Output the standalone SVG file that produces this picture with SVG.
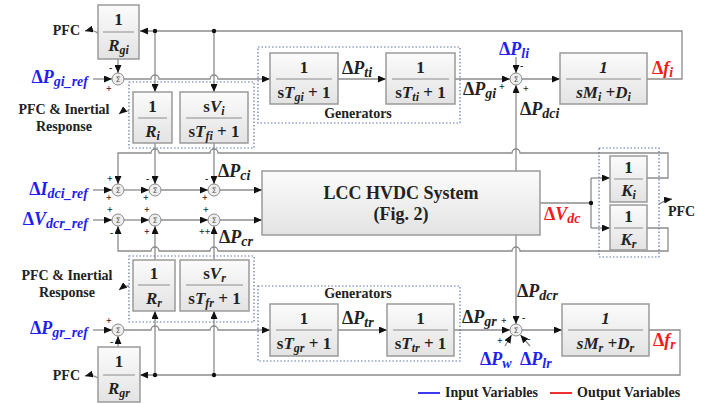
<svg xmlns="http://www.w3.org/2000/svg" width="722" height="404" viewBox="0 0 722 404">
<defs>
<linearGradient id="bg" x1="0" y1="0" x2="0" y2="1"><stop offset="0" stop-color="#fbfbfb"/><stop offset="1" stop-color="#e3e3e3"/></linearGradient>
<marker id="ah" markerWidth="8" markerHeight="7" refX="8" refY="3.5" orient="auto" markerUnits="userSpaceOnUse"><path d="M0,0 L8,3.5 L0,7 z" fill="#111"/></marker>
<g id="sig"><circle r="6" fill="#eeeeee" stroke="#8a8a8a" stroke-width="1"/><text y="2.6" text-anchor="middle" font-family="DejaVu Sans, sans-serif" font-size="7.5" fill="#555">Σ</text></g>
</defs>
<style>
.ln{fill:none;stroke:#8c8c8c;stroke-width:1.3}
.ar{marker-end:url(#ah)}
.blk{fill:url(#bg);stroke:#9a9a9a;stroke-width:1.5}
.grp{fill:none;stroke:#5f74b2;stroke-width:1.2;stroke-dasharray:1.5 2}
.fr{stroke:#8c8c8c;stroke-width:1;fill:none}
.t{font-family:'Liberation Serif',serif;font-weight:bold;fill:#222}
.bt{font-size:17px}
.lb{font-size:18px}
.sm{font-size:14px}
.sg{font-size:10px}
.i{font-style:italic}
.blue{fill:#1f1ff2}
.red{fill:#f21a1a}
.dot{fill:#111}
</style>
<rect width="722" height="404" fill="#ffffff"/>

<g id="connectors">
<path class="ln ar" d="M647,79 H682 V31 H140"/>
<path class="ln ar" d="M155,31 V92"/>
<path class="ln ar" d="M214,31 V92"/>
<circle class="dot" cx="155" cy="31" r="2.2"/>
<circle class="dot" cx="214" cy="31" r="2.2"/>
<path class="ln ar" d="M118,59 V73"/>
<path class="ln ar" d="M93,79 H112"/>
<path class="ln ar" d="M124,79 H151 A4,4 0 0 1 159,79 H210 A4,4 0 0 1 218,79 H270"/>
<path class="ln ar" d="M338,79 H386"/>
<path class="ln ar" d="M455,79 H510"/>
<path class="ln ar" d="M516,57 V73"/>
<path class="ln ar" d="M516,171 V85"/>
<path class="ln ar" d="M522,79 H560"/>
<path class="ln ar" d="M99,34 Q93,29 85,31"/>
<path class="ln ar" d="M129,111 Q124,110 119,114"/>
<path class="ln ar" d="M93,190 H112"/>
<path class="ln ar" d="M124,190 H149"/>
<path class="ln ar" d="M161,190 H208"/>
<path class="ln ar" d="M220,190 H262"/>
<path class="ln ar" d="M93,220 H112"/>
<path class="ln ar" d="M124,220 H149"/>
<path class="ln ar" d="M161,220 H208"/>
<path class="ln ar" d="M220,220 H262"/>
<path class="ln ar" d="M155,143 V184"/>
<path class="ln ar" d="M214,143 V184"/>
<path class="ln ar" d="M155,260 V226"/>
<path class="ln ar" d="M214,260 V226"/>
<path class="ln ar" d="M647,178 H668 V153 H520 A4,4 0 0 0 512,153 H218 A4,4 0 0 0 210,153 H159 A4,4 0 0 0 151,153 H118 V184"/>
<path class="ln ar" d="M647,228 H668 V251 H520 A4,4 0 0 0 512,251 H218 A4,4 0 0 0 210,251 H159 A4,4 0 0 0 151,251 H118 V226"/>
<path class="ln" d="M540,203 H591 M591,178 V228"/>
<path class="ln ar" d="M591,178 H610"/>
<path class="ln ar" d="M591,228 H610"/>
<circle class="dot" cx="591" cy="203" r="2.2"/>
<path class="ln ar" d="M659,204 Q665,200 672,199"/>
<path class="ln ar" d="M516,235 V324"/>
<path class="ln ar" d="M93,330 H112"/>
<path class="ln ar" d="M118,347 V336"/>
<path class="ln ar" d="M124,330 H151 A4,4 0 0 1 159,330 H210 A4,4 0 0 1 218,330 H270"/>
<path class="ln ar" d="M338,330 H387"/>
<path class="ln ar" d="M454,330 H510"/>
<path class="ln ar" d="M522,330 H562"/>
<path class="ln ar" d="M505,346 L511.5,335"/>
<path class="ln ar" d="M530,346 L520.5,335"/>
<path class="ln ar" d="M649,330 H680 V375 H140"/>
<path class="ln ar" d="M155,375 V311"/>
<path class="ln ar" d="M214,375 V311"/>
<circle class="dot" cx="155" cy="375" r="2.2"/>
<circle class="dot" cx="214" cy="375" r="2.2"/>
<path class="ln ar" d="M98,378 Q93,374 85,376"/>
<path class="ln ar" d="M129,286 Q124,286 119,290"/>
</g>

<rect class="grp" x="129" y="82" width="125" height="66"/>
<rect class="grp" x="258" y="47" width="202" height="76"/>
<rect class="grp" x="599" y="148" width="60" height="109"/>
<rect class="grp" x="129" y="256" width="125" height="66"/>
<rect class="grp" x="258" y="286" width="202" height="75"/>

<g font-family="Liberation Serif, serif">
<g id="sum_gi"><use href="#sig" x="118" y="79"/><text class="t sg" x="109" y="71">-</text><text class="t sg" x="106" y="92">+</text></g>
<g id="sum_i"><use href="#sig" x="516" y="79"/><text class="t sg" x="520" y="69">-</text><text class="t sg" x="499" y="90">+</text><text class="t sg" x="523" y="92">+</text></g>
<g id="sum_r1c1"><use href="#sig" x="118" y="190"/><text class="t sg" x="107" y="182">+</text><text class="t sg" x="106" y="201">+</text></g>
<g id="sum_r1c2"><use href="#sig" x="155" y="190"/><text class="t sg" x="146" y="182">-</text><text class="t sg" x="143" y="201">+</text></g>
<g id="sum_r1c3"><use href="#sig" x="214" y="190"/><text class="t sg" x="205" y="182">-</text><text class="t sg" x="202" y="201">+</text></g>
<g id="sum_r2c1"><use href="#sig" x="118" y="220"/><text class="t sg" x="107" y="213">+</text><text class="t sg" x="110" y="236">-</text></g>
<g id="sum_r2c2"><use href="#sig" x="155" y="220"/><text class="t sg" x="144" y="213">+</text><text class="t sg" x="144" y="235">+</text></g>
<g id="sum_r2c3"><use href="#sig" x="214" y="220"/><text class="t sg" x="203" y="213">+</text><text class="t sg" x="199" y="235">++</text></g>
<g id="sum_gr"><use href="#sig" x="118" y="330"/><text class="t sg" x="106" y="324">+</text><text class="t sg" x="110" y="345">-</text></g>
<g id="sum_r"><use href="#sig" x="516" y="330"/><text class="t sg" x="501" y="324">+</text><text class="t sg" x="522" y="321">-</text><text class="t sg" x="497" y="344">+</text><text class="t sg" x="527" y="342">-</text></g>

<g id="Rgi"><rect class="blk" x="98" y="5" width="41" height="54"/><path class="fr" d="M103,32H134"/><text class="t bt" x="118.5" y="25" text-anchor="middle">1</text><text class="t bt i" x="118.5" y="51" text-anchor="middle">R<tspan font-size="12" dy="3">gi</tspan></text></g>
<g id="Tgi"><rect class="blk" x="270" y="53" width="68" height="51"/><path class="fr" d="M276,79H332"/><text class="t bt" x="304" y="73" text-anchor="middle">1</text><text class="t bt" x="304" y="98" text-anchor="middle">s<tspan class="i">T</tspan><tspan class="i" font-size="12" dy="3">gi</tspan><tspan dy="-3"> + 1</tspan></text></g>
<g id="Tti"><rect class="blk" x="386" y="53" width="69" height="51"/><path class="fr" d="M392,79H449"/><text class="t bt" x="420.5" y="73" text-anchor="middle">1</text><text class="t bt" x="420.5" y="98" text-anchor="middle">s<tspan class="i">T</tspan><tspan class="i" font-size="12" dy="3">ti</tspan><tspan dy="-3"> + 1</tspan></text></g>
<g id="Mi"><rect class="blk" x="560" y="53" width="87" height="51"/><path class="fr" d="M566,79H641"/><text class="t bt i" x="603.5" y="73" text-anchor="middle">1</text><text class="t bt i" x="603.5" y="98" text-anchor="middle">sM<tspan font-size="12" dy="3">i</tspan><tspan dy="-3"> +D</tspan><tspan font-size="12" dy="3">i</tspan></text></g>
<g id="Ri"><rect class="blk" x="133" y="92" width="39" height="51"/><path class="fr" d="M138,118H167"/><text class="t bt" x="152.5" y="112" text-anchor="middle">1</text><text class="t bt i" x="152.5" y="137" text-anchor="middle">R<tspan font-size="12" dy="3">i</tspan></text></g>
<g id="Vi"><rect class="blk" x="180" y="92" width="68" height="51"/><path class="fr" d="M186,118H242"/><text class="t bt" x="214" y="112" text-anchor="middle">s<tspan class="i">V</tspan><tspan class="i" font-size="12" dy="3">i</tspan></text><text class="t bt" x="214" y="137" text-anchor="middle">s<tspan class="i">T</tspan><tspan class="i" font-size="12" dy="3">fi</tspan><tspan dy="-3"> + 1</tspan></text></g>
<g id="LCC"><rect class="blk" x="262" y="171" width="278" height="64"/><text class="t" font-size="18" x="401" y="199" text-anchor="middle">LCC HVDC System</text><text class="t" font-size="18" x="401" y="220" text-anchor="middle">(Fig. 2)</text></g>
<g id="Ki"><rect class="blk" x="610" y="156" width="37" height="46"/><path class="fr" d="M614,179H643"/><text class="t bt" x="628.5" y="173" text-anchor="middle">1</text><text class="t bt i" x="628.5" y="196" text-anchor="middle">K<tspan font-size="12" dy="3">i</tspan></text></g>
<g id="Kr"><rect class="blk" x="610" y="205" width="37" height="45"/><path class="fr" d="M614,228H643"/><text class="t bt" x="628.5" y="222" text-anchor="middle">1</text><text class="t bt i" x="628.5" y="245" text-anchor="middle">K<tspan font-size="12" dy="3">r</tspan></text></g>
<g id="Rr"><rect class="blk" x="133" y="260" width="42" height="51"/><path class="fr" d="M138,285H170"/><text class="t bt" x="154" y="279" text-anchor="middle">1</text><text class="t bt i" x="154" y="304" text-anchor="middle">R<tspan font-size="12" dy="3">r</tspan></text></g>
<g id="Vr"><rect class="blk" x="180" y="260" width="69" height="51"/><path class="fr" d="M186,285H243"/><text class="t bt" x="214.5" y="279" text-anchor="middle">s<tspan class="i">V</tspan><tspan class="i" font-size="12" dy="3">r</tspan></text><text class="t bt" x="214.5" y="304" text-anchor="middle">s<tspan class="i">T</tspan><tspan class="i" font-size="12" dy="3">fr</tspan><tspan dy="-3"> + 1</tspan></text></g>
<g id="Tgr"><rect class="blk" x="270" y="304" width="68" height="52"/><path class="fr" d="M276,330H332"/><text class="t bt" x="304" y="324" text-anchor="middle">1</text><text class="t bt" x="304" y="349" text-anchor="middle">s<tspan class="i">T</tspan><tspan class="i" font-size="12" dy="3">gr</tspan><tspan dy="-3"> + 1</tspan></text></g>
<g id="Ttr"><rect class="blk" x="387" y="304" width="67" height="52"/><path class="fr" d="M393,330H448"/><text class="t bt" x="420.5" y="324" text-anchor="middle">1</text><text class="t bt" x="420.5" y="349" text-anchor="middle">s<tspan class="i">T</tspan><tspan class="i" font-size="12" dy="3">tr</tspan><tspan dy="-3"> + 1</tspan></text></g>
<g id="Mr"><rect class="blk" x="562" y="304" width="87" height="52"/><path class="fr" d="M568,330H643"/><text class="t bt i" x="605.5" y="324" text-anchor="middle">1</text><text class="t bt i" x="605.5" y="349" text-anchor="middle">sM<tspan font-size="12" dy="3">r</tspan><tspan dy="-3"> +D</tspan><tspan font-size="12" dy="3">r</tspan></text></g>
<g id="Rgr"><rect class="blk" x="98" y="347" width="42" height="55"/><path class="fr" d="M103,375H135"/><text class="t bt" x="119" y="367" text-anchor="middle">1</text><text class="t bt i" x="119" y="394" text-anchor="middle">R<tspan font-size="12" dy="3">gr</tspan></text></g>

<g id="labels">
<text class="t sm" x="80" y="35" text-anchor="end">PFC</text>
<text class="t sm" x="80" y="380" text-anchor="end">PFC</text>
<text class="t sm" x="668" y="216">PFC</text>
<text class="t sm" x="64" y="114" text-anchor="middle">PFC &amp; Inertial</text>
<text class="t sm" x="64" y="131" text-anchor="middle">Response</text>
<text class="t sm" x="67" y="280" text-anchor="middle">PFC &amp; Inertial</text>
<text class="t sm" x="67" y="297" text-anchor="middle">Response</text>
<text class="t sm" x="358" y="118" text-anchor="middle">Generators</text>
<text class="t sm" x="358" y="298" text-anchor="middle">Generators</text>

<text class="t lb blue" x="88" y="83" text-anchor="end">Δ<tspan class="i">P</tspan><tspan class="i" font-size="14" dy="3">gi_ref</tspan></text>
<text class="t lb blue" x="88" y="195" text-anchor="end">Δ<tspan class="i">I</tspan><tspan class="i" font-size="14" dy="3">dci_ref</tspan></text>
<text class="t lb blue" x="88" y="225" text-anchor="end">Δ<tspan class="i">V</tspan><tspan class="i" font-size="14" dy="3">dcr_ref</tspan></text>
<text class="t lb blue" x="88" y="334" text-anchor="end">Δ<tspan class="i">P</tspan><tspan class="i" font-size="14" dy="3">gr_ref</tspan></text>
<text class="t lb blue" x="499" y="55">Δ<tspan class="i">P</tspan><tspan class="i" font-size="14" dy="3">li</tspan></text>
<text class="t lb blue" x="480" y="365">Δ<tspan class="i">P</tspan><tspan class="i" font-size="14" dy="3">w</tspan></text>
<text class="t lb blue" x="520" y="365">Δ<tspan class="i">P</tspan><tspan class="i" font-size="14" dy="3">lr</tspan></text>

<text class="t lb red" x="652" y="74">Δ<tspan class="i">f</tspan><tspan class="i" font-size="14" dy="3">i</tspan></text>
<text class="t lb red" x="653" y="346">Δ<tspan class="i">f</tspan><tspan class="i" font-size="14" dy="3">r</tspan></text>
<text class="t lb red" x="544" y="220">Δ<tspan class="i">V</tspan><tspan class="i" font-size="14" dy="3">dc</tspan></text>

<text class="t lb" x="342" y="74">Δ<tspan class="i">P</tspan><tspan class="i" font-size="14" dy="3">ti</tspan></text>
<text class="t lb" x="463" y="95">Δ<tspan class="i">P</tspan><tspan class="i" font-size="14" dy="3">gi</tspan></text>
<text class="t lb" x="520" y="115">Δ<tspan class="i">P</tspan><tspan class="i" font-size="14" dy="3">dci</tspan></text>
<text class="t lb" x="218" y="177">Δ<tspan class="i">P</tspan><tspan class="i" font-size="14" dy="3">ci</tspan></text>
<text class="t lb" x="219" y="243">Δ<tspan class="i">P</tspan><tspan class="i" font-size="14" dy="3">cr</tspan></text>
<text class="t lb" x="342" y="324">Δ<tspan class="i">P</tspan><tspan class="i" font-size="14" dy="3">tr</tspan></text>
<text class="t lb" x="462" y="323">Δ<tspan class="i">P</tspan><tspan class="i" font-size="14" dy="3">gr</tspan></text>
<text class="t lb" x="517" y="297">Δ<tspan class="i">P</tspan><tspan class="i" font-size="14" dy="3">dcr</tspan></text>
</g>

<g id="legend">
<path d="M418,393 H440" stroke="#3a3af0" stroke-width="2"/>
<text class="t sm" x="445" y="397">Input Variables</text>
<path d="M550,393 H572" stroke="#f03030" stroke-width="2"/>
<text class="t sm" x="577" y="397">Output Variables</text>
</g>
</g>
</svg>
